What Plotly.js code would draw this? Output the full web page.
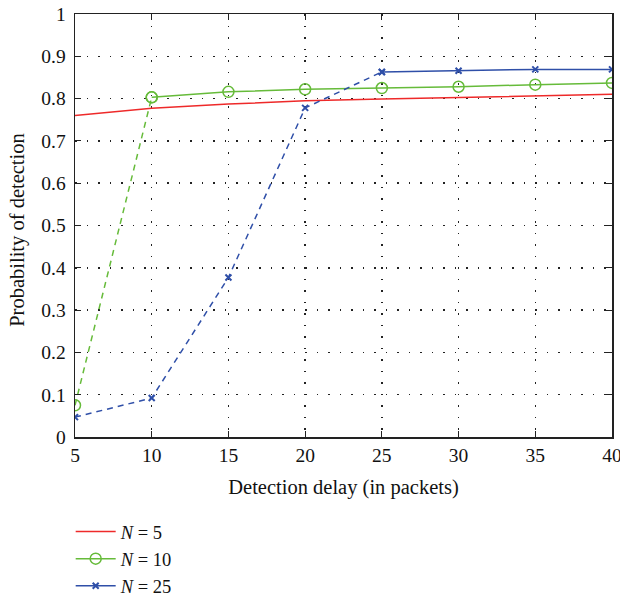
<!DOCTYPE html>
<html>
<head>
<meta charset="utf-8">
<script src="https://cdn.plot.ly/plotly-3.0.1.min.js"></script>
<style>html,body{margin:0;padding:0;background:#fff;}#chart{width:620px;height:598px;}</style>
</head>
<body>
<div id="chart"></div>
<script>
const delay = [5, 10, 15, 20, 25, 30, 35, 40];
const probN5 = [0.760, 0.777, 0.787, 0.795, 0.799, 0.803, 0.806, 0.810];
const probN10 = [0.075, 0.803, 0.816, 0.822, 0.825, 0.828, 0.833, 0.837];
const probN25 = [0.047, 0.092, 0.377, 0.778, 0.863, 0.866, 0.869, 0.869];
const seriesNames = ['<i>N</i> = 5', '<i>N</i> = 10', '<i>N</i> = 25'];
const xTicks = [5, 10, 15, 20, 25, 30, 35, 40];
const yTicks = [0, 0.1, 0.2, 0.3, 0.4, 0.5, 0.6, 0.7, 0.8, 0.9, 1];
const yTickLabels = ['0', '0.1', '0.2', '0.3', '0.4', '0.5', '0.6', '0.7', '0.8', '0.9', '1'];
const xTitle = 'Detection delay (in packets)';
const yTitle = 'Probability of detection';

const RED = '#ee2a2a', GREEN = '#66bb3a', BLUE = '#2f4fa8';
const fontFam = 'Liberation Serif, DejaVu Serif, serif';

// index where dashed part ends (dashed for first segments, solid after)
const dashEndN10 = 1;
const dashEndN25 = 4;

const greenMarker = {symbol: 'circle-open', size: 11, color: GREEN, line: {width: 1.5, color: GREEN}};
const blueMarker = {symbol: 'x-thin-open', size: 6, color: BLUE, line: {width: 2, color: BLUE}};

const traces = [
  {x: delay, y: probN5, name: seriesNames[0], mode: 'lines', line: {color: RED, width: 1.5}},
  {x: delay.slice(0, dashEndN10 + 1), y: probN10.slice(0, dashEndN10 + 1), mode: 'lines+markers', showlegend: false,
   line: {color: GREEN, width: 1.5, dash: '6px,5px'}, marker: greenMarker},
  {x: delay.slice(dashEndN10), y: probN10.slice(dashEndN10), name: seriesNames[1], mode: 'lines+markers',
   line: {color: GREEN, width: 1.5}, marker: greenMarker},
  {x: delay.slice(0, dashEndN25 + 1), y: probN25.slice(0, dashEndN25 + 1), mode: 'lines+markers', showlegend: false,
   line: {color: BLUE, width: 1.5, dash: '6px,5px'}, marker: blueMarker},
  {x: delay.slice(dashEndN25), y: probN25.slice(dashEndN25), name: seriesNames[2], mode: 'lines+markers',
   line: {color: BLUE, width: 1.5}, marker: blueMarker}
];

const axisCommon = {
  showline: true, linecolor: '#222', linewidth: 1.5, mirror: 'ticks',
  ticks: 'inside', ticklen: 6, tickcolor: '#222', tickwidth: 1,
  showgrid: true, gridcolor: '#222', griddash: '1.5px,10px', gridwidth: 1.5,
  zeroline: false, tickfont: {family: fontFam, size: 19.5, color: '#111'},
  ticklabeloverflow: 'allow', automargin: true
};

const layout = {
  width: 620, height: 598,
  margin: {l: 75, r: 8, t: 14, b: 161, autoexpand: false},
  paper_bgcolor: '#fff', plot_bgcolor: '#fff',
  font: {family: fontFam, color: '#111'},
  xaxis: Object.assign({}, axisCommon, {
    range: [5, 40], tickvals: xTicks, ticktext: xTicks.map(String),
    title: {text: xTitle, font: {family: fontFam, size: 20.5}, standoff: 14}
  }),
  yaxis: Object.assign({}, axisCommon, {
    range: [0, 1], tickvals: yTicks, ticktext: yTickLabels.map(t => t + '\u2009')
  }),
  annotations: [{
    text: yTitle, textangle: -90, showarrow: false,
    xref: 'paper', yref: 'paper', x: -0.106, y: 0.49, xanchor: 'center', yanchor: 'middle',
    font: {family: fontFam, size: 20.5, color: '#111'}
  }],
  showlegend: true,
  legend: {x: 0.114, xref: 'container', y: 0.142, yref: 'container', xanchor: 'left', yanchor: 'top', orientation: 'v',
    font: {family: fontFam, size: 18.5, color: '#111'}, bgcolor: 'rgba(0,0,0,0)', itemwidth: 40}
};

Plotly.newPlot('chart', traces, layout, {displayModeBar: false, staticPlot: true});
</script>
</body>
</html>
